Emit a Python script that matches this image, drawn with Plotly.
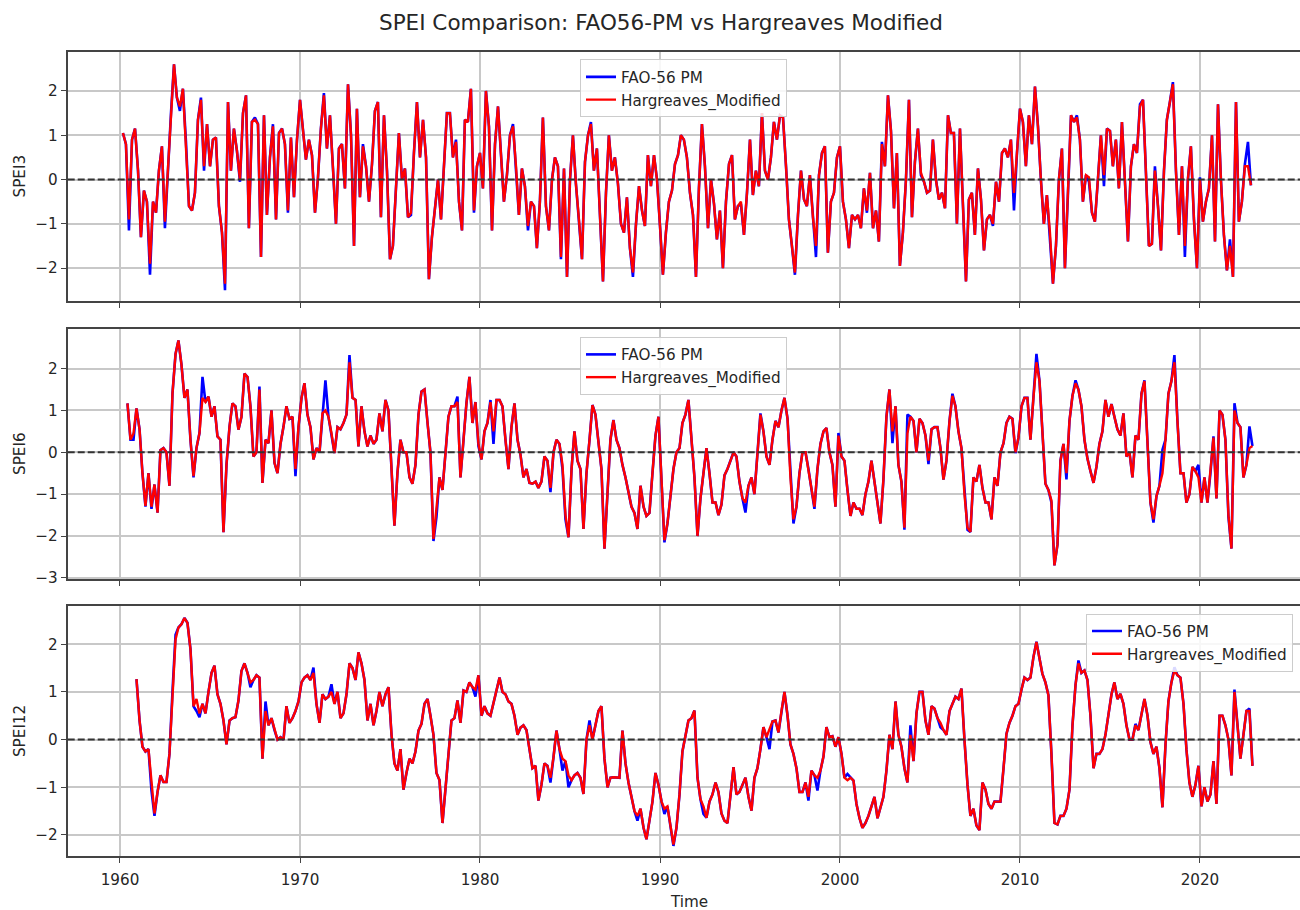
import pandas as pd
import plotly.graph_objects as go

# ---------------- data (every 2 months) ----------------
TITLE = "SPEI Comparison: FAO56-PM vs Hargreaves Modified"
SERIES_NAMES = ["FAO-56 PM", "Hargreaves_Modified"]
PANEL_LABELS = ["SPEI3", "SPEI6", "SPEI12"]
X_LABEL = "Time"
X_TICK_YEARS = [1960, 1970, 1980, 1990, 2000, 2010, 2020]

SPEI3_START = "1960-03-01"
SPEI6_START = "1960-06-01"
SPEI12_START = "1960-12-01"

SPEI3_HARG = [
    1.05, 0.8, -0.9, 0.9, 1.15,
    0.2, -1.3, -0.25, -0.5, -1.9, -0.5,
    -0.75, 0.2, 0.75, -0.95, 0.3, 1.5,
    2.6, 1.85, 1.65, 2.05, 0.85, -0.6,
    -0.7, -0.3, 1.35, 1.8, 0.3, 1.25,
    0.3, 0.9, 0.95, -0.6, -1.2, -2.35,
    1.75, 0.2, 1.15, 0.65, 0.0, 1.5,
    1.9, -1.1, 1.3, 1.35, 1.25, -1.75,
    1.45, -0.8, 0.5, 1.2, -0.9, 1.05,
    1.15, 0.8, -0.7, 0.95, -0.4, 0.9,
    1.8, 1.2, 0.45, 0.9, 0.55, -0.75,
    0.05, 1.15, 1.9, 0.7, 1.45, 0.25,
    -1.0, 0.7, 0.8, -0.2, 2.15, 1.0,
    -1.5, 1.6, -0.4, 0.75, 0.3, -0.5,
    0.35, 1.55, 1.75, -0.85, 1.45, 0.2,
    -1.8, -1.5, -0.3, 1.05, 0.0, 0.25,
    -0.85, -0.75, 0.6, 1.75, 0.5, 1.35,
    0.5, -2.25, -1.3, -0.7, 0.0, -0.9,
    0.35, 1.5, 1.5, 0.5, 0.85, -0.5,
    -1.15, 1.35, 1.3, 2.05, -0.7, 0.3,
    0.6, -0.2, 2.0, 1.2, -1.15, 0.8,
    1.65, 0.5, -0.5, 0.1, 1.0, 1.2,
    0.3, -0.8, 0.25, -0.15, -1.05, -0.5,
    -0.6, -1.55, -0.5, 1.4, -0.6, -1.15,
    0.0, 0.5, 0.3, -1.75, 0.25, -2.2,
    0.0, 1.0, -0.1, -0.9, -1.8, 0.4,
    1.0, 1.25, 0.2, 0.7, -1.0, -2.3,
    -0.3, 1.0, 0.2, 0.5, -0.1, -1.0,
    -1.2, -0.4, -1.55, -2.1, -1.0, -0.15,
    -0.7, -1.05, 0.55, -0.15, 0.55, 0.0,
    -1.05, -2.15, -1.2, -0.5, -0.25, 0.35,
    0.55, 1.0, 0.9, 0.5, -0.3, -0.8,
    -2.2, -0.2, 1.25, 0.3, -1.1, 0.0,
    -0.55, -1.35, -0.7, -2.0, -0.5, 0.35,
    0.55, -0.9, -0.6, -0.5, -1.25, -0.3,
    0.9, -0.35, 0.2, -0.15, 1.5, 0.2,
    0.0, 0.5, 1.3, 0.9, 1.45, 1.4,
    0.3, -0.9, -1.5, -2.1, -0.8, 0.2,
    -0.45, -0.6, 0.1, -0.85, -1.5, 0.1,
    0.6, 0.75, -1.65, -0.5, -0.3, 0.5,
    0.75, -0.5, -0.9, -1.55, -0.8, -0.9,
    -0.8, -1.1, -0.2, -0.7, 0.15, -1.1,
    -0.7, -1.4, 0.8, 0.3, 1.9, 1.1,
    -0.65, 0.6, -1.95, -1.2, 0.0, 1.8,
    -0.85, 0.4, 1.15, 0.15, -0.05, -0.3,
    -0.25, 0.9, 0.0, -0.45, -0.3, -0.65,
    1.45, 1.05, 1.05, -1.0, 1.15, -0.6,
    -2.3, -0.45, -0.3, -1.25, 0.25, -0.45,
    -1.6, -0.9, -0.8, -1.0, -0.05, -0.5,
    0.6, 0.7, 0.5, 0.9, -0.3, 0.6,
    1.6, 1.3, 0.3, 1.45, 0.8, 2.1,
    1.2, 0.0, -1.0, -0.35, -1.2, -2.35,
    -1.5, 0.0, 0.7, -2.0, -0.3, 1.45,
    1.3, 1.4, 0.9, -0.5, 0.1, 0.05,
    -0.75, -0.95, 0.0, 1.0, 0.1, 1.15,
    1.1, 0.3, 0.9, -0.2, 1.3, -0.2,
    -1.4, 0.3, 0.8, 0.6, 1.65, 1.8,
    0.3, -1.5, -1.45, 0.2, -0.6, -1.6,
    0.2, 1.35, 1.75, 2.15, 0.2, -1.25,
    0.3, -1.5, 0.0, 0.75, -0.9, -2.0,
    0.0, -0.95, -0.5, -0.2, 1.0, -1.4,
    1.7, 0.0, -1.25, -2.05, -1.5, -2.2,
    1.75, -0.95, -0.5, 0.3, 0.3, -0.13,
]

SPEI3_FAO = [
    1.05, 0.8, -1.15, 0.9, 1.15,
    0.2, -1.3, -0.25, -0.5, -2.15, -0.5,
    -0.75, 0.2, 0.75, -1.1, 0.3, 1.5,
    2.6, 1.85, 1.55, 2.05, 0.85, -0.6,
    -0.7, -0.3, 1.35, 1.85, 0.2, 1.25,
    0.3, 0.9, 0.95, -0.6, -1.2, -2.5,
    1.75, 0.2, 1.15, 0.65, -0.05, 1.5,
    1.9, -1.1, 1.3, 1.4, 1.25, -1.75,
    1.45, -0.8, 0.5, 1.25, -0.9, 1.05,
    1.15, 0.8, -0.75, 0.95, -0.4, 0.9,
    1.8, 1.2, 0.45, 0.9, 0.55, -0.75,
    0.05, 1.15, 1.95, 0.7, 1.45, 0.25,
    -1.0, 0.7, 0.8, -0.2, 2.15, 1.0,
    -1.5, 1.6, -0.4, 0.8, 0.3, -0.5,
    0.35, 1.55, 1.75, -0.85, 1.45, 0.2,
    -1.8, -1.5, -0.3, 1.05, 0.0, 0.25,
    -0.85, -0.8, 0.6, 1.75, 0.5, 1.35,
    0.5, -2.25, -1.3, -0.7, 0.0, -0.9,
    0.35, 1.5, 1.5, 0.5, 0.9, -0.5,
    -1.15, 1.35, 1.3, 2.05, -0.75, 0.3,
    0.6, -0.2, 2.0, 1.2, -1.15, 0.8,
    1.65, 0.5, -0.5, 0.1, 1.0, 1.25,
    0.3, -0.8, 0.25, -0.15, -1.15, -0.5,
    -0.6, -1.55, -0.5, 1.4, -0.6, -1.15,
    0.0, 0.5, 0.3, -1.8, 0.25, -2.2,
    0.0, 1.0, -0.1, -0.9, -1.8, 0.4,
    1.0, 1.3, 0.2, 0.7, -1.0, -2.3,
    -0.3, 1.0, 0.2, 0.5, -0.1, -1.0,
    -1.2, -0.4, -1.55, -2.2, -1.0, -0.15,
    -0.7, -1.05, 0.55, -0.15, 0.55, 0.0,
    -1.05, -2.15, -1.2, -0.5, -0.25, 0.35,
    0.55, 1.0, 0.9, 0.5, -0.3, -0.8,
    -2.2, -0.2, 1.25, 0.3, -1.1, 0.0,
    -0.55, -1.35, -0.7, -2.0, -0.5, 0.35,
    0.55, -0.9, -0.6, -0.55, -1.25, -0.3,
    0.9, -0.35, 0.2, -0.15, 1.5, 0.2,
    0.0, 0.5, 1.3, 0.9, 1.45, 1.4,
    0.3, -0.9, -1.5, -2.15, -0.8, 0.2,
    -0.45, -0.6, 0.1, -0.85, -1.75, 0.1,
    0.6, 0.75, -1.65, -0.5, -0.3, 0.5,
    0.75, -0.5, -0.9, -1.55, -0.8, -0.9,
    -0.8, -1.1, -0.2, -0.75, 0.15, -1.1,
    -0.7, -1.4, 0.85, 0.3, 1.9, 1.1,
    -0.65, 0.6, -1.95, -1.2, 0.0, 1.8,
    -0.85, 0.4, 1.15, 0.1, -0.05, -0.3,
    -0.25, 0.9, 0.0, -0.45, -0.3, -0.65,
    1.45, 1.05, 1.05, -1.0, 1.15, -0.6,
    -2.3, -0.45, -0.3, -1.25, 0.25, -0.45,
    -1.6, -0.9, -0.8, -1.05, -0.05, -0.5,
    0.6, 0.7, 0.5, 0.9, -0.7, 0.6,
    1.6, 1.3, 0.3, 1.45, 0.8, 2.1,
    1.2, 0.0, -1.0, -0.35, -1.3, -2.35,
    -1.5, 0.0, 0.7, -2.0, -0.3, 1.45,
    1.3, 1.45, 0.9, -0.5, 0.1, -0.05,
    -0.75, -0.95, 0.0, 1.0, -0.15, 1.15,
    1.1, 0.3, 0.9, -0.2, 1.3, -0.2,
    -1.4, 0.3, 0.8, 0.6, 1.7, 1.8,
    0.3, -1.5, -1.45, 0.3, -0.6, -1.6,
    0.2, 1.35, 1.75, 2.2, 0.2, -1.25,
    0.3, -1.75, 0.0, 0.75, -0.9, -2.0,
    0.05, -0.95, -0.5, -0.2, 1.0, -1.4,
    1.7, 0.0, -1.25, -2.05, -1.35, -2.2,
    1.75, -0.95, -0.5, 0.35, 0.85, -0.13,
]

SPEI6_HARG = [
    1.17, 0.3, 0.45, 1.05,
    0.55, -0.5, -1.28, -0.5, -1.3, -0.77,
    -1.44, 0.05, 0.1, 0.0, -0.8, 1.4,
    2.35, 2.67, 2.1, 1.3, 1.5, 0.3,
    -0.57, 0.1, 0.46, 1.3, 1.2, 1.33,
    0.85, 1.1, 0.38, 0.3, -1.91, -0.3,
    0.62, 1.17, 1.1, 0.54, 0.85, 1.88,
    1.8, 1.1, -0.1, 0.0, 1.5, -0.73,
    0.3, 0.22, 1.0, -0.25, -0.5, 0.2,
    0.62, 1.1, 0.8, 0.85, -0.4, 0.6,
    1.3, 1.65, 0.9, 0.6, -0.17, 0.1,
    0.0, 0.93, 1.0, 0.85, 0.46, -0.02,
    0.6, 0.55, 0.7, 0.9, 2.15, 1.3,
    1.25, 0.14, 1.1, 0.5, 0.14, 0.4,
    0.2, 0.3, 0.93, 0.5, 1.25, 1.0,
    -0.4, -1.75, -0.5, 0.3, 0.0, 0.0,
    -0.6, -0.75, -0.3, 0.9, 1.45, 1.5,
    0.7, 0.0, -2.07, -1.4, -0.6, -0.9,
    0.0, 0.85, 1.1, 1.1, 1.2, -0.6,
    0.3, 1.17, 1.8, 0.7, 1.2, 0.2,
    -0.17, 0.5, 0.7, 1.2, 0.5, 1.25,
    1.25, 1.1, 0.3, -0.4, 0.6, 1.17,
    0.3, -0.05, -0.6, -0.4, -0.73, -0.75,
    -0.7, -0.85, -0.7, -0.1, -0.2, -0.85,
    0.0, 0.3, 0.2, -0.3, -1.5, -2.03,
    -0.4, 0.5, -0.2, -0.4, -1.83, -0.5,
    0.3, 1.13, 0.9, 0.2, -0.4, -2.3,
    -0.89, 0.3, 0.77, 0.3, 0.1, -0.3,
    -0.6, -0.95, -1.3, -1.45, -1.83, -0.8,
    -1.3, -1.52, -1.45, -0.5, 0.4, 0.85,
    -0.6, -2.1, -1.7, -1.0, -0.4, 0.0,
    0.1, 0.7, 0.9, 1.25, 0.4, -0.6,
    -2.0, -1.1, -0.5, 0.1, -0.5, -1.2,
    -1.2, -1.5, -1.25, -0.55, -0.4, -0.2,
    0.0, -0.1, -0.7, -1.1, -1.2, -0.8,
    -0.6, -1.0, -0.1, 0.9, 0.5, -0.1,
    -0.3, 0.3, 0.75, 0.6, 1.0, 1.3,
    0.8, -0.6, -1.6, -1.3, -0.5, 0.0,
    0.0, -0.4, -0.9, -1.3, -0.4, 0.2,
    0.5, 0.58, 0.0, -0.3, -1.3, 0.4,
    -0.1, -0.2, -0.9, -1.52, -1.2, -1.35,
    -1.35, -1.5, -1.0, -0.7, -0.2, -0.7,
    -1.2, -1.7, -0.65, 0.85, 1.5, 0.5,
    1.1, -0.3, -0.7, -1.8, 0.45, 0.85,
    0.75, 0.0, 0.8, 0.7, 0.4, -0.2,
    0.55, 0.6, 0.6, 0.1, -0.65, -0.2,
    0.75, 1.35, 1.1, 0.5, 0.1, -1.0,
    -1.8, -1.9, -0.6, -0.7, -0.3, -0.85,
    -1.2, -1.2, -1.6, -0.6, -0.8, 0.0,
    0.22, 0.7, 0.85, 0.8, 0.0, 0.35,
    1.1, 1.3, 1.3, 0.3, 1.3, 2.15,
    1.7, 0.5, -0.75, -0.9, -1.15, -2.7,
    -2.2, -0.2, 0.2, -0.5, 0.75, 1.35,
    1.65, 1.5, 1.1, 0.3, -0.15, -0.45,
    -0.73, -0.35, 0.2, 0.5, 1.25, 0.85,
    1.15, 0.85, 0.55, 0.4, 0.93, -0.1,
    0.0, -0.6, 0.4, 0.3, 1.4, 1.7,
    0.1, -1.2, -1.6, -1.05, -0.8, -0.5,
    0.3, 1.4, 1.7, 2.15, 0.75, -0.5,
    -0.5, -1.2, -1.0, -0.35, -0.45, -0.6,
    -1.2, -0.6, -1.2, -0.5, 0.35, -1.1,
    1.0, 0.9, 0.3, -1.5, -2.3, 1.0,
    0.7, 0.6, -0.6, -0.3, 0.1, 0.15,
]

SPEI6_FAO = [
    1.17, 0.3, 0.3, 1.05,
    0.55, -0.5, -1.3, -0.5, -1.35, -0.77,
    -1.44, 0.05, 0.1, 0.0, -0.8, 1.4,
    2.35, 2.67, 2.1, 1.3, 1.5, 0.3,
    -0.6, 0.1, 0.46, 1.8, 1.2, 1.33,
    0.85, 1.1, 0.38, 0.3, -1.91, -0.3,
    0.62, 1.17, 1.1, 0.54, 0.85, 1.88,
    1.8, 1.1, -0.1, 0.0, 1.57, -0.73,
    0.3, 0.22, 1.0, -0.25, -0.5, 0.2,
    0.62, 1.1, 0.8, 0.85, -0.57, 0.6,
    1.3, 1.65, 0.9, 0.6, -0.17, 0.1,
    0.0, 0.93, 1.72, 0.85, 0.46, -0.02,
    0.6, 0.55, 0.7, 0.9, 2.32, 1.3,
    1.25, 0.14, 1.1, 0.5, 0.14, 0.4,
    0.2, 0.3, 0.93, 0.5, 1.25, 1.0,
    -0.4, -1.75, -0.5, 0.3, 0.0, 0.0,
    -0.6, -0.75, -0.3, 0.9, 1.45, 1.5,
    0.7, 0.0, -2.12, -1.55, -0.6, -0.9,
    0.0, 0.85, 1.1, 1.1, 1.33, -0.6,
    0.3, 1.17, 1.8, 0.7, 1.2, 0.15,
    -0.17, 0.5, 0.7, 1.25, 0.2, 1.25,
    1.25, 1.1, 0.3, -0.4, 0.6, 1.17,
    0.3, -0.05, -0.6, -0.4, -0.73, -0.75,
    -0.7, -0.85, -0.7, -0.1, -0.2, -0.95,
    0.0, 0.3, 0.2, -0.4, -1.6, -2.03,
    -0.4, 0.5, -0.2, -0.4, -1.83, -0.5,
    0.3, 1.13, 0.9, 0.2, -0.4, -2.3,
    -0.89, 0.3, 0.77, 0.3, 0.1, -0.3,
    -0.6, -0.95, -1.3, -1.45, -1.83, -0.8,
    -1.3, -1.52, -1.45, -0.5, 0.4, 0.85,
    -0.6, -2.15, -1.7, -1.0, -0.4, 0.0,
    0.1, 0.7, 0.9, 1.25, 0.22, -0.6,
    -2.0, -1.1, -0.5, 0.1, -0.5, -1.2,
    -1.2, -1.5, -1.25, -0.55, -0.4, -0.2,
    0.0, -0.1, -0.7, -1.1, -1.44, -0.8,
    -0.6, -1.0, -0.1, 0.93, 0.5, -0.1,
    -0.3, 0.3, 0.75, 0.6, 1.0, 1.3,
    0.8, -0.6, -1.7, -1.3, -0.5, 0.0,
    0.0, -0.4, -0.9, -1.35, -0.4, 0.2,
    0.5, 0.58, 0.0, -0.3, -1.3, 0.46,
    -0.1, -0.2, -0.9, -1.52, -1.2, -1.35,
    -1.35, -1.5, -1.0, -0.7, -0.2, -0.7,
    -1.2, -1.7, -0.65, 0.85, 1.5, 0.22,
    1.1, -0.3, -0.7, -1.85, 0.9, 0.85,
    0.75, 0.0, 0.8, 0.7, 0.4, -0.28,
    0.55, 0.6, 0.6, 0.1, -0.65, -0.2,
    0.75, 1.4, 1.1, 0.5, 0.1, -1.0,
    -1.85, -1.9, -0.6, -0.7, -0.3, -0.85,
    -1.2, -1.2, -1.6, -0.6, -0.8, 0.0,
    0.22, 0.7, 0.85, 0.8, -0.02, 0.35,
    1.1, 1.3, 1.3, 0.3, 1.3, 2.35,
    1.7, 0.5, -0.75, -0.9, -1.2, -2.7,
    -2.2, -0.2, 0.2, -0.65, 0.75, 1.35,
    1.72, 1.5, 1.1, 0.3, -0.15, -0.45,
    -0.73, -0.35, 0.2, 0.5, 1.25, 0.85,
    1.15, 0.85, 0.55, 0.4, 0.93, -0.1,
    0.0, -0.6, 0.4, 0.3, 1.4, 1.72,
    0.1, -1.2, -1.68, -1.05, -0.8, 0.06,
    0.3, 1.4, 1.7, 2.32, 0.75, -0.5,
    -0.5, -1.2, -1.0, -0.35, -0.45, -0.3,
    -1.2, -0.6, -1.2, -0.5, 0.38, -1.1,
    1.0, 0.9, 0.3, -1.55, -2.3, 1.17,
    0.7, 0.6, -0.6, -0.3, 0.62, 0.15,
]

SPEI12_HARG = [
    1.27,
    0.4, -0.15, -0.25, -0.2, -0.9, -1.55,
    -1.1, -0.75, -0.89, -0.89, -0.3, 1.0,
    2.1, 2.35, 2.42, 2.55, 2.45, 1.9,
    0.7, 0.85, 0.55, 0.75, 0.55, 1.0,
    1.4, 1.55, 0.95, 0.75, 0.4, -0.1,
    0.4, 0.45, 0.47, 0.82, 1.44, 1.6,
    1.4, 1.2, 1.25, 1.35, 1.3, -0.4,
    0.6, 0.3, 0.45, 0.2, 0.0, 0.05,
    0.0, 0.7, 0.35, 0.45, 0.6, 0.8,
    1.2, 1.3, 1.35, 1.25, 1.4, 0.75,
    0.35, 0.95, 0.85, 0.9, 1.0, 0.75,
    1.0, 0.45, 0.55, 0.95, 1.6, 1.5,
    1.25, 1.83, 1.6, 1.25, 0.4, 0.75,
    0.3, 0.6, 1.0, 0.7, 0.95, 1.1,
    0.1, -0.5, -0.65, -0.2, -1.05, -0.7,
    -0.4, -0.5, -0.25, 0.19, 0.33, 0.75,
    0.85, 0.5, 0.1, -0.7, -0.85, -1.75,
    -1.0, -0.4, 0.4, 0.45, 0.82, 0.35,
    1.03, 1.0, 1.2, 1.1, 1.05, 1.35,
    0.5, 0.7, 0.55, 0.5, 0.75, 1.03,
    1.3, 1.0, 0.95, 0.8, 0.75, 0.5,
    0.1, 0.25, 0.3, 0.2, -0.25, -0.6,
    -0.55, -1.28, -0.95, -0.5, -0.55, -0.8,
    -0.37, 0.19, -0.2, -0.4, -0.45, -0.75,
    -0.85, -0.75, -0.7, -0.8, -1.14, 0.0,
    0.3, 0.0, 0.3, 0.6, 0.7, -0.4,
    -1.0, -0.8, -0.79, -0.79, -0.8, 0.19,
    -0.5, -0.9, -1.2, -1.5, -1.6, -1.45,
    -1.85, -2.09, -1.7, -1.3, -0.7, -0.95,
    -1.3, -1.45, -1.4, -1.8, -2.2, -1.85,
    -1.15, -0.25, 0.05, 0.4, 0.45, 0.61,
    -0.8, -1.25, -1.4, -1.64, -1.3, -1.15,
    -0.9, -1.1, -1.55, -1.7, -1.75, -1.15,
    -0.58, -1.15, -1.1, -0.95, -0.8, -1.2,
    -1.49, -0.8, -0.6, -0.2, 0.26, 0.05,
    0.2, 0.38, 0.4, 0.15, 0.6, 1.0,
    0.5, -0.1, -0.3, -0.6, -1.1, -1.1,
    -0.9, -1.2, -0.65, -0.75, -0.8, -0.65,
    -0.35, 0.26, 0.05, 0.07, -0.15, 0.05,
    -0.3, -0.8, -0.85, -0.8, -0.86, -1.35,
    -1.65, -1.85, -1.75, -1.6, -1.4, -1.2,
    -1.65, -1.4, -1.2, -0.65, 0.1, -0.2,
    0.8, 0.1, -0.15, -0.6, -0.9, 0.1,
    -0.45, 0.55, 1.0, 1.0, 0.4, 0.1,
    0.7, 0.65, 0.45, 0.35, 0.2, 0.1,
    0.6, 0.75, 0.9, 0.85, 1.07, 0.0,
    -0.95, -1.6, -1.45, -1.8, -1.9, -0.9,
    -1.05, -1.35, -1.45, -1.3, -1.3, -1.3,
    -0.6, 0.12, 0.35, 0.5, 0.7, 0.75,
    1.05, 1.3, 1.25, 1.3, 1.73, 2.05,
    1.7, 1.38, 1.2, 0.93, -0.3, -1.75,
    -1.78, -1.6, -1.6, -1.45, -1.05, 0.3,
    1.15, 1.6, 1.4, 1.45, 1.25, 0.5,
    -0.6, -0.3, -0.3, -0.2, 0.1, 0.55,
    0.95, 1.2, 0.85, 0.96, 0.75, 0.3,
    0.0, 0.0, 0.3, 0.2, 0.55, 0.85,
    0.5, -0.05, -0.3, -0.15, -0.6, -1.42,
    -0.1, 0.8, 1.2, 1.45, 1.35, 1.3,
    0.75, -0.2, -0.9, -1.2, -0.95, -0.55,
    -1.4, -1.0, -1.3, -1.15, -0.45, -1.35,
    0.5, 0.5, 0.3, 0.0, -0.75, 1.0,
    0.3, -0.4, 0.1, 0.6, 0.6, -0.55,
]

SPEI12_FAO = [
    1.27,
    0.4, -0.15, -0.25, -0.2, -1.07, -1.6,
    -1.1, -0.75, -0.89, -0.89, -0.3, 1.0,
    2.2, 2.35, 2.42, 2.55, 2.45, 1.9,
    0.7, 0.6, 0.47, 0.75, 0.55, 1.0,
    1.4, 1.55, 0.95, 0.75, 0.4, -0.1,
    0.4, 0.45, 0.47, 0.82, 1.44, 1.6,
    1.4, 1.1, 1.25, 1.35, 1.3, -0.4,
    0.8, 0.3, 0.45, 0.2, 0.0, 0.05,
    0.0, 0.7, 0.35, 0.45, 0.6, 0.8,
    1.2, 1.3, 1.35, 1.25, 1.51, 0.75,
    0.35, 0.95, 0.85, 0.9, 1.16, 0.75,
    1.0, 0.45, 0.55, 0.95, 1.6, 1.5,
    1.25, 1.83, 1.6, 1.25, 0.4, 0.75,
    0.3, 0.6, 1.0, 0.7, 0.95, 1.1,
    0.1, -0.5, -0.65, -0.2, -1.05, -0.7,
    -0.4, -0.5, -0.25, 0.19, 0.33, 0.75,
    0.85, 0.5, 0.1, -0.7, -0.85, -1.75,
    -1.0, -0.4, 0.4, 0.45, 0.82, 0.35,
    1.03, 1.0, 1.2, 1.1, 0.9, 1.35,
    0.5, 0.7, 0.55, 0.5, 0.75, 1.03,
    1.3, 1.0, 0.95, 0.8, 0.75, 0.5,
    0.1, 0.25, 0.3, 0.2, -0.25, -0.6,
    -0.55, -1.28, -0.95, -0.5, -0.55, -0.9,
    -0.37, 0.19, -0.2, -0.65, -0.45, -1.0,
    -0.85, -0.75, -0.7, -0.8, -1.14, 0.0,
    0.4, 0.0, 0.3, 0.6, 0.7, -0.4,
    -1.0, -0.8, -0.79, -0.79, -0.8, 0.19,
    -0.5, -0.9, -1.2, -1.5, -1.7, -1.45,
    -1.85, -2.09, -1.7, -1.3, -0.7, -0.95,
    -1.3, -1.56, -1.4, -1.8, -2.23, -1.85,
    -1.15, -0.25, 0.05, 0.4, 0.45, 0.61,
    -0.8, -1.25, -1.56, -1.64, -1.3, -1.15,
    -0.9, -1.1, -1.55, -1.7, -1.75, -1.15,
    -0.58, -1.15, -1.1, -0.95, -0.8, -1.2,
    -1.49, -0.8, -0.6, -0.2, 0.26, 0.05,
    -0.2, 0.38, 0.4, 0.15, 0.6, 1.0,
    0.5, -0.1, -0.3, -0.6, -1.1, -1.1,
    -0.9, -1.28, -0.65, -0.75, -1.07, -0.65,
    -0.35, 0.26, 0.05, 0.07, -0.15, 0.05,
    -0.3, -0.8, -0.72, -0.8, -0.86, -1.35,
    -1.65, -1.85, -1.75, -1.6, -1.4, -1.2,
    -1.65, -1.4, -1.2, -0.65, 0.1, -0.2,
    0.8, 0.1, -0.15, -0.6, -0.9, 0.3,
    -0.45, 0.55, 1.0, 1.0, 0.4, 0.1,
    0.7, 0.65, 0.45, 0.26, 0.2, 0.1,
    0.6, 0.75, 0.9, 0.85, 1.07, 0.0,
    -0.95, -1.6, -1.45, -1.8, -1.9, -0.9,
    -1.05, -1.35, -1.45, -1.3, -1.3, -1.3,
    -0.6, 0.12, 0.35, 0.5, 0.7, 0.75,
    1.05, 1.3, 1.25, 1.3, 1.73, 2.05,
    1.7, 1.38, 1.2, 0.93, -0.3, -1.75,
    -1.78, -1.6, -1.6, -1.45, -1.05, 0.3,
    1.15, 1.66, 1.4, 1.45, 1.25, 0.5,
    -0.6, -0.3, -0.3, -0.2, 0.1, 0.55,
    0.95, 1.2, 0.85, 0.96, 0.75, 0.3,
    0.0, 0.0, 0.33, 0.2, 0.55, 0.85,
    0.5, -0.05, -0.3, -0.15, -0.6, -1.42,
    -0.1, 0.8, 1.2, 1.52, 1.35, 1.3,
    0.75, -0.2, -0.9, -1.2, -0.95, -0.55,
    -1.4, -1.0, -1.3, -1.15, -0.45, -1.35,
    0.5, 0.5, 0.3, 0.0, -0.75, 1.05,
    0.3, -0.4, 0.1, 0.6, 0.65, -0.55,
]

# ---------------- styling ----------------
W, H = 1300, 910
FONT = "DejaVu Sans"
TXT = "#262626"
BLUE = "#0000ff"
RED = "#ff0000"
GRID = "#c8c8c8"
FRAME = "#444444"
FS = 15.2

X_LEFT_PX = 67.7
PANELS_PX = [(52, 304), (331.7, 584.3), (611, 864)]
Y_RANGES = [[-2.75, 2.89], [-3.03, 2.95], [-2.45, 2.81]]
Y_TICKS = [[-2, -1, 0, 1, 2], [-3, -2, -1, 0, 1, 2], [-2, -1, 0, 1, 2]]
X_RANGE = ["1957-02-04", "2025-07-23"]

panels = [
    (SPEI3_START, SPEI3_FAO, SPEI3_HARG),
    (SPEI6_START, SPEI6_FAO, SPEI6_HARG),
    (SPEI12_START, SPEI12_FAO, SPEI12_HARG),
]

fig = go.Figure()
legend_ids = ["legend", "legend2", "legend3"]
for i, (start, fao, harg) in enumerate(panels):
    xa = "x" if i == 0 else f"x{i+1}"
    ya = "y" if i == 0 else f"y{i+1}"
    d_fao = pd.date_range(start, periods=len(fao), freq="2MS")
    d_harg = pd.date_range(start, periods=len(harg), freq="2MS")
    fig.add_trace(go.Scatter(x=d_fao, y=fao, mode="lines", name=SERIES_NAMES[0],
                             line=dict(color=BLUE, width=2.6), xaxis=xa, yaxis=ya,
                             legend=legend_ids[i]))
    fig.add_trace(go.Scatter(x=d_harg, y=harg, mode="lines", name=SERIES_NAMES[1],
                             line=dict(color=RED, width=2.4), xaxis=xa, yaxis=ya,
                             legend=legend_ids[i]))

layout = dict(
    width=W, height=H,
    margin=dict(l=0, r=0, t=0, b=0),
    paper_bgcolor="white", plot_bgcolor="white",
    font=dict(family=FONT, size=FS, color=TXT),
    title=dict(text=TITLE, x=661 / W, xanchor="center", y=1 - 22 / H, yanchor="middle",
               font=dict(family=FONT, size=21.5, color=TXT)),
    hovermode=False,
)

tick_dates = [f"{y}-01-01" for y in X_TICK_YEARS]
for i, (top, bot) in enumerate(PANELS_PX):
    xk = "xaxis" if i == 0 else f"xaxis{i+1}"
    yk = "yaxis" if i == 0 else f"yaxis{i+1}"
    ya = "y" if i == 0 else f"y{i+1}"
    xa = "x" if i == 0 else f"x{i+1}"
    layout[xk] = dict(
        domain=[X_LEFT_PX / W, 1.0], anchor=ya, type="date", range=X_RANGE,
        tickvals=tick_dates, ticktext=[str(y) for y in X_TICK_YEARS],
        showticklabels=(i == 2), ticks="outside", ticklen=5, tickwidth=1.3, tickcolor=FRAME,
        ticklabelstandoff=3,
        showgrid=True, gridcolor=GRID, gridwidth=1.8, zeroline=False,
        showline=True, mirror=True, linecolor=FRAME, linewidth=1.8,
        tickfont=dict(size=FS, color=TXT),
    )
    layout[yk] = dict(
        domain=[1 - bot / H, 1 - top / H], anchor=xa, range=Y_RANGES[i],
        tickvals=Y_TICKS[i], ticks="outside", ticklen=5, tickwidth=1.3, tickcolor=FRAME,
        showgrid=True, gridcolor=GRID, gridwidth=1.8, zeroline=False,
        showline=True, mirror=False, linecolor=FRAME, linewidth=1.8,
        tickfont=dict(size=FS, color=TXT),
    )

legend_style = dict(bgcolor="rgba(255,255,255,0.85)", bordercolor="#cccccc", borderwidth=1,
                    font=dict(family=FONT, size=FS, color=TXT), tracegroupgap=0,
                    xanchor="left", yanchor="top", itemwidth=30)
layout["legend"] = dict(x=580 / W, y=1 - 60 / H, **legend_style)
layout["legend2"] = dict(x=580 / W, y=1 - 340 / H, **legend_style)
layout["legend3"] = dict(x=1086 / W, y=1 - 619 / H, **legend_style)

shapes = []
annotations = []
for i, (top, bot) in enumerate(PANELS_PX):
    xa = "x" if i == 0 else f"x{i+1}"
    ya = "y" if i == 0 else f"y{i+1}"
    shapes.append(dict(type="line", xref=f"{xa} domain", x0=0, x1=1, yref=ya, y0=0, y1=0,
                       line=dict(color="#333333", width=2, dash="7px,3px"), layer="above"))
    annotations.append(dict(text=PANEL_LABELS[i], xref="paper", yref="paper",
                            x=20 / W, y=1 - (top + bot) / 2 / H, textangle=-90,
                            showarrow=False, xanchor="center", yanchor="middle",
                            font=dict(family=FONT, size=FS, color=TXT)))
annotations.append(dict(text=X_LABEL, xref="paper", yref="paper", x=689 / W, y=1 - 899 / H,
                        showarrow=False, xanchor="center", yanchor="top",
                        font=dict(family=FONT, size=FS, color=TXT)))
layout["shapes"] = shapes
layout["annotations"] = annotations

fig.update_layout(**layout)
fig.write_html("out.html")
